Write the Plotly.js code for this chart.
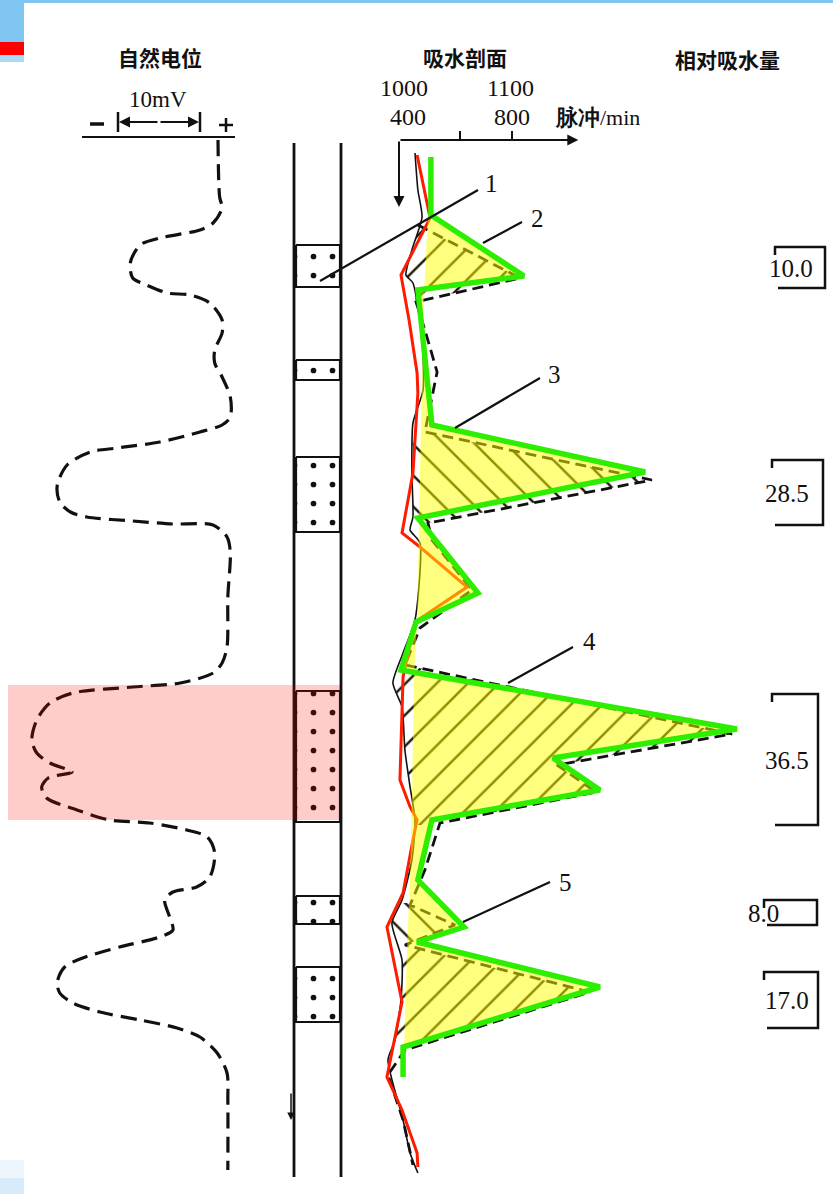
<!DOCTYPE html>
<html><head><meta charset="utf-8">
<script src="https://cdn.plot.ly/plotly-3.0.1.min.js"></script>
<style>html,body{margin:0;padding:0;background:#fff;}#chart{width:833px;height:1194px;}</style>
</head><body><div id="chart"></div>
<script>
// ================= DATA =================
// depth = vertical position along the well in diagram units (top -> bottom)

// Spontaneous potential (SP), mV relative to the shale base line
const spDepth = [140,197,208,223,230,238,245,263,278,285,293,295,303,320,333,350,363,377,397,417,425,432,442,448,452,465,485,502,512,517,521,524,525,537,552,597,647,663,673,683,687,693,703,720,740,753,763,772,778,787,798,810,820,823,830,837,853,877,887,892,900,917,930,937,947,958,967,982,993,1003,1012,1020,1028,1037,1053,1073,1100,1170];
const spMV    = [0.0,0.2,0.5,-0.6,-2.2,-7.1,-9.5,-10.7,-10.4,-8.7,-6.2,-3.4,-1.0,0.5,0.5,-0.4,-0.4,0.5,1.5,1.5,0.5,-2.2,-7.1,-12.3,-15.6,-18.4,-19.6,-19.3,-18.0,-16.0,-10.4,-5.5,-0.6,1.1,1.5,1.2,1.1,0.5,-0.6,-4.6,-10.4,-17.7,-20.5,-22.1,-22.7,-22.1,-20.5,-17.8,-20.7,-21.5,-20.9,-17.2,-13.2,-8.3,-3.8,-1.3,-0.4,-1.0,-2.6,-5.5,-6.5,-5.9,-5.5,-7.1,-12.0,-16.5,-18.7,-19.6,-19.3,-17.7,-14.4,-9.5,-5.0,-2.2,-0.1,1.1,1.2,1.2];

// Injection profile, pulses/min
// green: interpreted profile (filled yellow against its base line)
const greenDepth = [157,215,276,290,425,472,518,593,622,670,729,758,790,820,880,927,942,987,1047,1077];
const greenPulse = [488,488,846,438,492,1312,438,669,431,373,1665,958,1138,492,438,615,435,1138,381,381];
// base line of the yellow area
const baseDepth = [215,290,420,520,620,680,800,880,950,1047];
const basePulse = [477,462,450,442,435,423,415,408,396,385];
// curve 2 (dashed): after injection
const dashDepth = [225,278,302,330,372,432,480,523,540,590,628,665,734,765,792,823,870,905,925,945,992,1050,1075,1120,1165];
const dashPulse = [438,831,431,465,512,465,1338,477,492,646,446,388,1646,973,1123,523,465,408,581,388,1100,388,323,381,419];
// curve 1 (thin solid): base measurement
const blackDepth = [153,190,217,250,275,283,340,390,423,473,517,530,543,620,653,683,707,750,787,820,860,900,923,960,1000,1040,1060,1120,1153,1173];
const blackPulse = [427,438,454,415,392,419,454,458,419,415,419,408,446,427,381,342,377,388,408,427,415,377,338,377,373,350,323,381,408,438];
// red curve
const redDepth = [155,218,275,320,373,393,473,533,547,587,622,677,780,807,820,840,893,927,1002,1077,1110,1153,1167];
const redPulse = [435,485,373,404,435,438,419,377,446,627,427,381,369,408,435,419,381,319,377,319,377,435,438];

// hatched zones between curve 1 and curve 2
const hatchTop = [222,432,665,903,946];
const hatchBot = [302,525,825,946,1050];
const hatchDir = ['/','\\','/','\\','/'];

// sandstone layers in the lithology column
const sandTop = [245,360,457,691,896,967];
const sandBot = [287,380,532,822,924,1022];

// relative water absorption (%) per interval
const absorbLabels = ['10.0','28.5','36.5','8.0','17.0'];
const absorbTop = [247,460,694,900,972];
const absorbBot = [288,525,825,925,1028];

// pulse-axis tick labels
const pulseTicks = [400,800];
const pulseTicksUpper = ['1000','1100'];
const pulseTickMarks = [600,800];
const pointerLabels = ['1','2','3','4','5'];

// ================= DRAWING =================
const W = 833, H = 1194;
const PX_PER_MV = 8.2, SP_ZERO_PX = 218;
const PX_PER_PULSE = 0.26, P400_PX = 408;
const spRange = [-SP_ZERO_PX/PX_PER_MV, (W-SP_ZERO_PX)/PX_PER_MV];
const pulseRange = [400 - P400_PX/PX_PER_PULSE, 400 + (W-P400_PX)/PX_PER_PULSE];
const pulseToPx = v => P400_PX + (v-400)*PX_PER_PULSE;
const px = x => x / W;          // paper x from picture px
const py = y => 1 - y / H;      // paper y from picture px

function interp(ds, vs, d){
  if (d <= ds[0]) return vs[0];
  for (let i=1;i<ds.length;i++){
    if (d <= ds[i]) { const t=(d-ds[i-1])/(ds[i]-ds[i-1]); return vs[i-1]+t*(vs[i]-vs[i-1]); }
  }
  return vs[vs.length-1];
}

const traces = [];
const COL_L = 296, COL_R = 340;

// sandstone boxes
sandTop.forEach((t,i)=>{
  const b = sandBot[i];
  traces.push({x:[COL_L,COL_R,COL_R,COL_L,COL_L], y:[t,t,b,b,t], xaxis:'x3', yaxis:'y',
    mode:'lines', fill:'toself', fillcolor:'#fff',
    fillpattern:{shape:'.', fgcolor:'#111', bgcolor:'#fff', size:19, solidity:0.07},
    line:{color:'#111', width:2.2}, hoverinfo:'skip', showlegend:false});
});

// SP curve
traces.push({x:spMV, y:spDepth, xaxis:'x', yaxis:'y', mode:'lines',
  line:{color:'#111', width:3.2, dash:'16px,8px', shape:'spline', smoothing:0.8}, hoverinfo:'skip', showlegend:false});

// hatched zones
hatchTop.forEach((t,i)=>{
  const b = hatchBot[i];
  const xs=[], ys=[];
  xs.push(interp(dashDepth,dashPulse,t)); ys.push(t);
  dashDepth.forEach((d,j)=>{ if(d>t && d<b){ xs.push(dashPulse[j]); ys.push(d);} });
  xs.push(interp(dashDepth,dashPulse,b)); ys.push(b);
  xs.push(interp(blackDepth,blackPulse,b)); ys.push(b);
  for(let j=blackDepth.length-1;j>=0;j--){ const d=blackDepth[j]; if(d>t && d<b){ xs.push(blackPulse[j]); ys.push(d);} }
  xs.push(interp(blackDepth,blackPulse,t)); ys.push(t);
  traces.push({x:xs, y:ys, xaxis:'x2', yaxis:'y', mode:'lines', fill:'toself',
    fillcolor:'rgba(0,0,0,0)',
    fillpattern:{shape:hatchDir[i], fgcolor:'#1a1a00', bgcolor:'rgba(0,0,0,0)', size:22, solidity:0.11},
    line:{width:0, color:'rgba(0,0,0,0)'}, hoverinfo:'skip', showlegend:false});
});

// curve 1 (thin)
traces.push({x:blackPulse, y:blackDepth, xaxis:'x2', yaxis:'y', mode:'lines',
  line:{color:'#111', width:1.6, shape:'spline', smoothing:0.6}, hoverinfo:'skip', showlegend:false});
// curve 2 (dashed)
traces.push({x:dashPulse, y:dashDepth, xaxis:'x2', yaxis:'y', mode:'lines',
  line:{color:'#111', width:2.8, dash:'11px,6px'}, hoverinfo:'skip', showlegend:false});
// red curve
traces.push({x:redPulse, y:redDepth, xaxis:'x2', yaxis:'y', mode:'lines',
  line:{color:'#ff1a00', width:3}, hoverinfo:'skip', showlegend:false});

// yellow area between green profile and its base line
const yx = [], yy = [];
greenDepth.forEach((d,i)=>{ if(d>=baseDepth[0] && d<=baseDepth[baseDepth.length-1]){ yx.push(greenPulse[i]); yy.push(d);} });
for(let j=baseDepth.length-1;j>=0;j--){ yx.push(basePulse[j]); yy.push(baseDepth[j]); }
traces.push({x:yx, y:yy, xaxis:'x2', yaxis:'y', mode:'lines', fill:'toself',
  fillcolor:'rgba(255,255,0,0.5)', line:{width:0, color:'rgba(0,0,0,0)'}, hoverinfo:'skip', showlegend:false});

// green profile
traces.push({x:greenPulse, y:greenDepth, xaxis:'x2', yaxis:'y', mode:'lines',
  line:{color:'rgb(45,238,0)', width:5.5}, hoverinfo:'skip', showlegend:false});

// ---------- layout decorations ----------
const shapes = [];
const annotations = [];
const L = (x0,y0,x1,y1,w,c,layer) => shapes.push({type:'line', xref:'paper', yref:'paper',
  x0:px(x0), y0:py(y0), x1:px(x1), y1:py(y1), line:{color:c||'#111', width:w||2}, layer:layer||'above'});
const R = (x0,y0,x1,y1,c,layer) => shapes.push({type:'rect', xref:'paper', yref:'paper',
  x0:px(x0), y0:py(y0), x1:px(x1), y1:py(y1), fillcolor:c, line:{width:0}, layer:layer||'below'});

// page background pieces
R(0,0,24,42,'#7fc7f2'); R(0,42,24,55,'#ff0000'); R(0,55,24,62,'#a9daf6'); R(24,0,W,3,'#7fc7f2');
R(0,1160,24,1178,'#eef6fd'); R(0,1178,24,1194,'#d8ebfa');

// lithology column lines
L(294,143,294,1177,2.8); L(341,143,341,1177,2.8);
annotations.push({xref:'paper', yref:'paper', x:px(291), y:py(1120), ax:0, ay:-28, text:'', showarrow:true,
  arrowhead:2, arrowsize:1, arrowwidth:1.5, arrowcolor:'#111'});

// SP header
L(82,137,235,137,2); L(90,124,104,124,3.5);
L(219,125,233,125,2.5); L(226,118,226,132,2.5);
L(118,112,118,132,2.5); L(200,112,200,132,2.5);
annotations.push({xref:'paper', yref:'paper', x:px(119), y:py(122), ax:40, ay:0, text:'', showarrow:true, arrowhead:2, arrowsize:1.1, arrowwidth:2, arrowcolor:'#111', standoff:0});
annotations.push({xref:'paper', yref:'paper', x:px(199), y:py(122), ax:-40, ay:0, text:'', showarrow:true, arrowhead:2, arrowsize:1.1, arrowwidth:2, arrowcolor:'#111', standoff:0});

// pulse axis
annotations.push({xref:'paper', yref:'paper', x:px(pulseToPx(1055)), y:py(140), ax:-(pulseToPx(1055)-399), ay:0, text:'', showarrow:true, arrowhead:2, arrowsize:1.1, arrowwidth:2, arrowcolor:'#111', standoff:0});
annotations.push({xref:'paper', yref:'paper', x:px(399), y:py(207), ax:0, ay:-67, text:'', showarrow:true, arrowhead:2, arrowsize:1.1, arrowwidth:2, arrowcolor:'#111', standoff:0});
pulseTickMarks.forEach(v=>L(pulseToPx(v),131,pulseToPx(v),140,2));

const serif = 'Liberation Serif, Times New Roman, serif';
const cjk = 'Noto Sans CJK SC, sans-serif';
const T = (x,y,text,size,family,extra) => annotations.push(Object.assign({xref:'paper', yref:'paper',
  x:px(x), y:py(y), text:text, showarrow:false, xanchor:'center', yanchor:'middle',
  font:{family:family, size:size, color:'#111'}}, extra||{}));

T(160,57,'<b>自然电位</b>',21,cjk);
T(465,57,'<b>吸水剖面</b>',21,cjk);
T(727,59,'<b>相对吸水量</b>',21,cjk);
T(158,100,'10mV',23,serif);
pulseTicks.forEach((v,i)=>{
  T(pulseToPx(v)+ (i===0? -4 : -2),88,pulseTicksUpper[i],24,serif);
  T(pulseToPx(v),117,String(v),24,serif);
});
T(597,118,'<b>脉冲</b>/min',22,serif);

// pointer lines + labels
const ptrs = [[320,281,478,190,492,184],[483,243,522,222,537,219],[455,428,540,378,554,375],[508,683,573,647,589,641],[463,922,550,882,565,882]];
ptrs.forEach((p,i)=>{ L(p[0],p[1],p[2],p[3],2.2); T(p[4],p[5],pointerLabels[i],25,serif); });

// absorption brackets
const brL = [775,772,772,764,764], brR = [825,823,818,817,818], txtX = [791,787,787,763,787];
absorbLabels.forEach((lab,i)=>{
  const t = absorbTop[i], b = absorbBot[i];
  shapes.push({type:'path', xref:'paper', yref:'paper', layer:'above',
    path:`M ${px(brL[i])} ${py(t+8)} L ${px(brL[i])} ${py(t)} L ${px(brR[i])} ${py(t)} L ${px(brR[i])} ${py(b)} L ${px(brL[i]+3)} ${py(b)}`,
    line:{color:'#111', width:2.5}});
  T(txtX[i], (t+b)/2+1, lab, 25, serif);
});

// pink highlight of the main layer
R(8,685,340,820,'rgba(255,0,0,0.2)','above');

const layout = {
  width:W, height:H, margin:{l:0,r:0,t:0,b:0}, paper_bgcolor:'#fff', plot_bgcolor:'rgba(0,0,0,0)',
  showlegend:false, dragmode:false,
  xaxis:{range:spRange, domain:[0,1], visible:false, fixedrange:true},
  xaxis2:{range:pulseRange, domain:[0,1], overlaying:'x', visible:false, fixedrange:true},
  xaxis3:{range:[0,W], domain:[0,1], overlaying:'x', visible:false, fixedrange:true},
  yaxis:{range:[H,0], domain:[0,1], visible:false, fixedrange:true},
  shapes:shapes, annotations:annotations
};
Plotly.newPlot('chart', traces, layout, {staticPlot:true, displayModeBar:false});
</script></body></html>
